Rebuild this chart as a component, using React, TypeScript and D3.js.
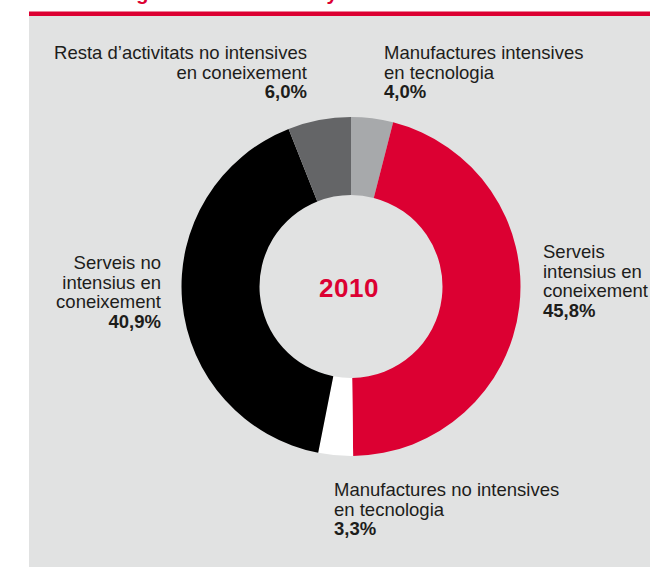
import * as d3 from 'd3'

// Share of employment by activity type, 2010 (%)
const categories = [
  'Manufactures intensives en tecnologia',
  'Serveis intensius en coneixement',
  'Manufactures no intensives en tecnologia',
  'Serveis no intensius en coneixement',
  "Resta d’activitats no intensives en coneixement",
]
const values = [4.0, 45.8, 3.3, 40.9, 6.0]
const labelLines = [
  ['Manufactures intensives', 'en tecnologia'],
  ['Serveis', 'intensius en', 'coneixement'],
  ['Manufactures no intensives', 'en tecnologia'],
  ['Serveis no', 'intensius en', 'coneixement'],
  ['Resta d’activitats no intensives', 'en coneixement'],
]
const sliceColors = ['#a7a9ab', '#dc0032', '#ffffff', '#000000', '#646567']
const yearLabel = '2010'
const titleText = 'Percentatge sobre el total. Any 2010'

const W = 650
const H = 567
const CX = 351
const CY = 286.5
const R_OUT = 169.5
const R_IN = 91.5
const LINE_H = 19.5
const FONT = '"Liberation Sans", Arial, sans-serif'
const INK = '#1d1d1b'

// where each label block sits (first baseline), by slice index
const labelPos: { x: number; y: number; anchor: 'start' | 'end' }[] = [
  { x: 384, y: 59, anchor: 'start' },
  { x: 543, y: 258, anchor: 'start' },
  { x: 334, y: 496, anchor: 'start' },
  { x: 161, y: 269, anchor: 'end' },
  { x: 307, y: 59, anchor: 'end' },
]

const ca = d3.formatLocale({ decimal: ',', thousands: '.', grouping: [3], currency: ['', ' €'] })
const pct = ca.format('.1f')

export default function App() {
  const pie = d3
    .pie<number>()
    .sort(null)
    .value((d) => d)
  const arcs = pie(values)
  const arc = d3.arc<d3.PieArcDatum<number>>().innerRadius(R_IN).outerRadius(R_OUT)

  return (
    <div style={{ position: 'fixed', left: 0, top: 0 }}>
      <svg width={W} height={H} style={{ display: 'block', background: '#ffffff' }}>
        <text x={45} y={0} fill="#dc0032" fontFamily={FONT} fontWeight="bold" fontSize={20}>
          {titleText}
        </text>
        <rect x={29} y={16} width={W - 29} height={H - 16} fill="#e1e2e2" />
        <rect x={29} y={11.5} width={W - 29} height={4.5} fill="#dc0032" />

        <g transform={`translate(${CX},${CY})`}>
          {arcs.map((a, i) => (
            <path key={categories[i]} d={arc(a) ?? ''} fill={sliceColors[i]} />
          ))}
        </g>

        <text
          x={CX - 2}
          y={296.5}
          textAnchor="middle"
          fill="#dc0032"
          fontFamily={FONT}
          fontWeight="bold"
          fontSize={26}
          letterSpacing={0.5}
        >
          {yearLabel}
        </text>

        {labelLines.map((lines, i) => {
          const p = labelPos[i]
          return (
            <text
              key={categories[i]}
              x={p.x}
              y={p.y}
              textAnchor={p.anchor}
              fill={INK}
              fontFamily={FONT}
              fontSize={18.5}
            >
              {lines.map((l, j) => (
                <tspan key={j} x={p.x} dy={j === 0 ? 0 : LINE_H}>
                  {l}
                </tspan>
              ))}
              <tspan x={p.x} dy={LINE_H} fontWeight="bold">
                {pct(values[i])}%
              </tspan>
            </text>
          )
        })}
      </svg>
    </div>
  )
}
